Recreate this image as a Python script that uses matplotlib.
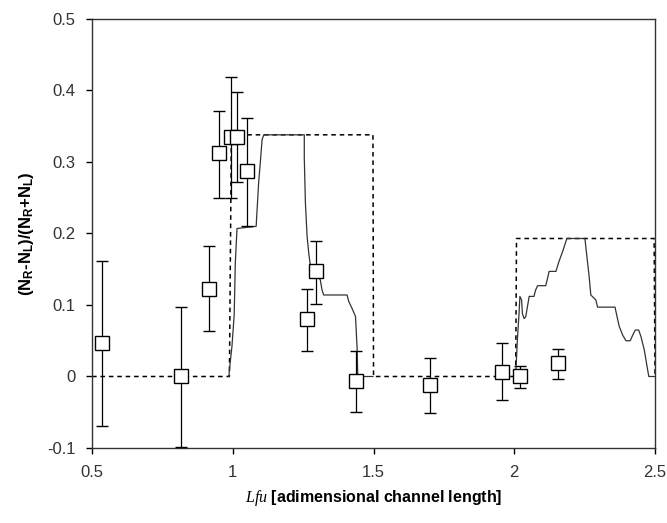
import matplotlib
matplotlib.use('Agg')
import matplotlib.pyplot as plt

plt.rcParams['font.family'] = ['Liberation Sans', 'DejaVu Sans']
plt.rcParams['mathtext.fontset'] = 'custom'
plt.rcParams['mathtext.rm'] = 'Liberation Sans'
plt.rcParams['mathtext.bf'] = 'Liberation Sans:bold'
plt.rcParams['mathtext.it'] = 'Liberation Serif:italic'

# measured points (squares with error bars)
pt_x = [0.536, 0.816, 0.914, 0.952, 0.993, 1.015, 1.049, 1.264, 1.294, 1.436, 1.700, 1.958, 2.020, 2.156]
pt_y = [0.047, 0.000, 0.123, 0.313, 0.335, 0.335, 0.287, 0.080, 0.147, -0.006, -0.012, 0.006, 0.000, 0.019]
pt_hi = [0.162, 0.097, 0.183, 0.372, 0.419, 0.398, 0.362, 0.123, 0.190, 0.036, 0.026, 0.047, 0.014, 0.039]
pt_lo = [-0.069, -0.099, 0.064, 0.250, 0.250, 0.272, 0.210, 0.035, 0.101, -0.050, -0.051, -0.033, -0.016, -0.004]

# dashed model curve
dash_x = [0.5, 0.988, 0.995, 1.498, 1.500, 2.005, 2.008, 2.497, 2.500]
dash_y = [0.0, 0.0, 0.338, 0.338, 0.0, 0.0, 0.193, 0.193, 0.0]

# solid simulation curve, first peak
sim1_x = [0.986, 0.988, 0.997, 1.005, 1.009, 1.015, 1.083, 1.092, 1.098, 1.104, 1.110,
          1.254, 1.254, 1.258, 1.264, 1.270, 1.276, 1.294, 1.311, 1.317, 1.323, 1.406,
          1.412, 1.424, 1.436, 1.442, 1.444, 1.498]
sim1_y = [0.0, 0.009, 0.042, 0.086, 0.159, 0.207, 0.210, 0.272, 0.300, 0.331, 0.338,
          0.338, 0.306, 0.243, 0.196, 0.172, 0.154, 0.145, 0.135, 0.121, 0.114, 0.114,
          0.105, 0.095, 0.084, 0.037, 0.0, 0.0]
# solid simulation curve, second peak
sim2_x = [2.005, 2.011, 2.017, 2.020, 2.026,
          2.029, 2.035, 2.041, 2.047, 2.053, 2.070, 2.076, 2.083, 2.112, 2.118,
          2.124, 2.148, 2.159, 2.172, 2.187, 2.251, 2.258, 2.266, 2.272, 2.290,
          2.296, 2.358, 2.365, 2.373, 2.385, 2.397, 2.412, 2.421, 2.430, 2.442,
          2.450, 2.462, 2.474, 2.478, 2.500]
sim2_y = [0.0, 0.051, 0.088, 0.112, 0.107,
          0.088, 0.081, 0.084, 0.098, 0.112, 0.112, 0.121, 0.127, 0.127, 0.137,
          0.147, 0.147, 0.161, 0.175, 0.193, 0.193, 0.168, 0.140, 0.114, 0.107,
          0.097, 0.097, 0.084, 0.070, 0.058, 0.050, 0.050, 0.058, 0.065, 0.065,
          0.056, 0.037, 0.009, 0.0, 0.0]

fig = plt.figure(figsize=(6.67, 5.23), dpi=100)
ax = fig.add_axes([0.138, 0.1434, 0.844, 0.8203])

ax.plot(dash_x, dash_y, color='black', lw=1.1, ls=(0, (3, 2.5)), zorder=2)
ax.plot(sim1_x, sim1_y, color='#333333', lw=0.9, zorder=2)
ax.plot(sim2_x, sim2_y, color='#333333', lw=0.9, zorder=2)

err_lo = [y - l for y, l in zip(pt_y, pt_lo)]
err_hi = [h - y for y, h in zip(pt_y, pt_hi)]
ax.errorbar(pt_x, pt_y, yerr=[err_lo, err_hi], fmt='none', ecolor='black',
            elinewidth=0.9, capsize=4.5, capthick=1.0, zorder=3)
ax.plot(pt_x, pt_y, 's', ms=9.5, mfc='white', mec='black', mew=1.0, zorder=4)

ax.set_xlim(0.5, 2.5)
ax.set_ylim(-0.1, 0.5)
ax.set_xticks([0.5, 1, 1.5, 2, 2.5])
ax.set_xticklabels(['0.5', '1', '1.5', '2', '2.5'])
ax.set_yticks([-0.1, 0, 0.1, 0.2, 0.3, 0.4, 0.5])
ax.set_yticklabels(['-0.1', '0', '0.1', '0.2', '0.3', '0.4', '0.5'])
ax.tick_params(direction='out', length=4, width=1, labelsize=12,
               labelcolor='#333333', pad=8)
for s in ax.spines.values():
    s.set_linewidth(1.0)
    s.set_color('#333333')

ax.set_xlabel(r'$Lfu$ [adimensional channel length]', fontsize=11.5,
              fontweight='bold', labelpad=6)
ax.set_ylabel(r'(N$_\mathbf{R}$-N$_\mathbf{L}$)/(N$_\mathbf{R}$+N$_\mathbf{L}$)',
              fontsize=12, fontweight='bold', labelpad=8)

fig.savefig('out.png', dpi=100)
